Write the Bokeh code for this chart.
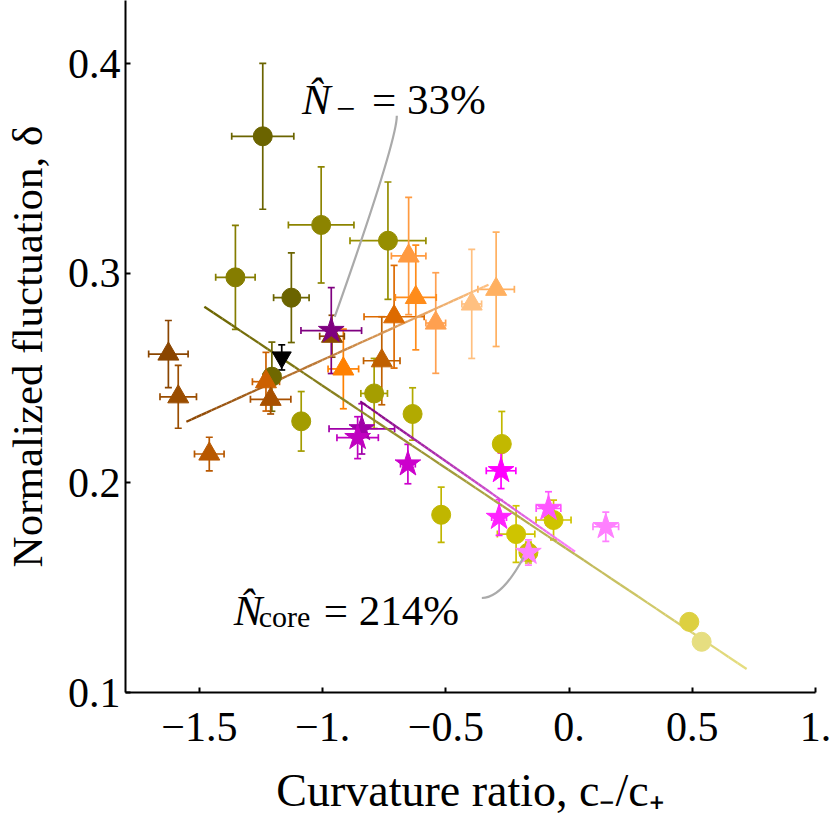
from bokeh.plotting import figure
from bokeh.models import ColumnDataSource, Whisker, TeeHead, FixedTicker, Range1d
from bokeh.core.properties import value, field
from bokeh.embed import file_html
from bokeh.resources import INLINE
import numpy as np

# ---------------- data ----------------
# circles (olive -> yellow family)
circ_x = [-1.243, -1.006, -1.354, -1.127, -1.206, -1.087, -0.735, -0.791, -0.635, -0.273, -0.519, -0.215, -0.063, -0.165, 0.488, 0.538]
circ_y = [0.3654, 0.3231, 0.2981, 0.2884, 0.2507, 0.2294, 0.3156, 0.2427, 0.2329, 0.2186, 0.1848, 0.1756, 0.1823, 0.1668, 0.1337, 0.1242]
circ_xerr = [0.126, 0.133, 0.080, 0.072, 0.035, 0.030, 0.154, 0.054, 0.020, 0.020, 0.020, 0.076, 0.071, 0.0, 0.0, 0.0]
circ_yerr = [0.0348, 0.0277, 0.0248, 0.0214, 0.0165, 0.0142, 0.0280, 0.0167, 0.0125, 0.0155, 0.0132, 0.0135, 0.0095, 0.005, 0.0, 0.0]
circ_color = ["#6b6400", "#8c8400", "#857d00", "#6b6400", "#6f6800", "#a39c00", "#968e00", "#a59e00",
              "#b2aa00", "#c2b800", "#c0b600", "#cfc400", "#cfc400", "#c9be00", "#ddd040", "#e6de80"]

# triangles (brown -> orange -> light orange)
tri_x = [-1.626, -1.586, -1.460, -1.230, -1.211, -0.916, -0.651, -0.622, -0.710, -0.760, -0.541, -0.395, -0.296, -0.962]
tri_y = [0.2615, 0.2411, 0.2138, 0.2483, 0.2399, 0.2544, 0.3083, 0.2885, 0.2793, 0.2583, 0.2763, 0.2854, 0.2924, 0.2700]
tri_xerr = [0.080, 0.074, 0.060, 0.055, 0.082, 0.062, 0.070, 0.083, 0.122, 0.074, 0.040, 0.040, 0.074, 0.05]
tri_yerr = [0.016, 0.015, 0.008, 0.014, 0.007, 0.019, 0.028, 0.025, 0.0245, 0.021, 0.024, 0.026, 0.0273, 0.01]
tri_color = ["#8a4500", "#9a4d00", "#b85800", "#cc6000", "#a85000", "#ff8000", "#ff9a40", "#ff8c1a",
             "#dd6a00", "#c06000", "#ffa050", "#ffc080", "#ffb060", "#8b4a00"]

# stars (purple -> magenta -> pink)
star_x = [-0.965, -0.841, -0.858, -0.654, -0.276, -0.284, -0.0835, 0.149, -0.165]
star_y = [0.2727, 0.2258, 0.2216, 0.2090, 0.2058, 0.1835, 0.1878, 0.1791, 0.1668]
star_xerr = [0.123, 0.133, 0.084, 0.030, 0.060, 0.030, 0.050, 0.052, 0.010]
star_yerr = [0.0205, 0.012, 0.010, 0.0094, 0.0085, 0.0085, 0.008, 0.007, 0.006]
star_color = ["#7f0080", "#a000a8", "#c000c0", "#cc00cc", "#ff00ff", "#ff22ff", "#ff55ff", "#ff80ff", "#ff80ff"]

# single black point (inverted triangle)
down_x = [-1.166]
down_y = [0.2599]
down_yerr = [0.006]

# fit lines: endpoints and end colours
fit_names = ["circles", "triangles", "stars"]
fit_x0 = [-1.480, -1.553, -0.8475]
fit_y0 = [0.2841, 0.2292, 0.2389]
fit_x1 = [0.7205, -0.327, 0.0243]
fit_y1 = [0.1112, 0.2946, 0.1672]
fit_c0 = ["#6b6400", "#8b4500", "#800080"]
fit_c1 = ["#e6de80", "#ffc080", "#ff80ff"]

x_ticks = [-1.5, -1.0, -0.5, 0.0, 0.5, 1.0]
x_tick_labels = ["\u22121.5", "\u22121.", "\u22120.5", "0.", "0.5", "1."]
y_ticks = [0.1, 0.2, 0.3, 0.4]
y_tick_labels = ["0.1", "0.2", "0.3", "0.4"]

FONT = "Liberation Serif"

p = figure(frame_width=690, frame_height=692, output_backend="svg", toolbar_location=None,
           x_range=Range1d(-1.8, 1.0), y_range=Range1d(0.1, 0.4302),
           min_border_left=123, min_border_right=17, min_border_top=0, min_border_bottom=130)
p.outline_line_color = None
p.grid.visible = False
p.background_fill_color = "white"
p.border_fill_color = "white"

for ax in (p.xaxis[0], p.yaxis[0]):
    ax.axis_line_width = 2
    ax.axis_line_color = "black"
    ax.major_tick_in = 5
    ax.major_tick_out = 0
    ax.major_tick_line_width = 2
    ax.minor_tick_line_color = None
    ax.major_label_text_font = FONT
    ax.major_label_text_font_size = "42px"
    ax.major_label_text_color = "black"
    ax.axis_label_text_font = FONT
    ax.axis_label_text_font_style = "normal"
    ax.axis_label_text_color = "black"

p.xaxis.axis_label_text_font_size = "46px"
p.yaxis.axis_label_text_font_size = "43px"
p.xaxis.ticker = FixedTicker(ticks=x_ticks)
p.xaxis.major_label_overrides = {t: l for t, l in zip(x_ticks, x_tick_labels)}
p.yaxis.ticker = FixedTicker(ticks=y_ticks)
p.yaxis.major_label_overrides = {t: l for t, l in zip(y_ticks, y_tick_labels)}
p.xaxis.axis_label = "Curvature ratio, c\u208b/c\u208a"
p.yaxis.axis_label = "Normalized fluctuation, \u03b4"
p.xaxis.major_label_standoff = 20
p.yaxis.major_label_standoff = 5
p.xaxis.axis_label_standoff = 21
p.yaxis.axis_label_standoff = 14


def lerp_color(c0, c1, t):
    a = [int(c0[i:i + 2], 16) for i in (1, 3, 5)]
    b = [int(c1[i:i + 2], 16) for i in (1, 3, 5)]
    return "#%02x%02x%02x" % tuple(int(round(a[k] + (b[k] - a[k]) * t)) for k in range(3))


# gradient fit lines
nseg = 60
for x0, y0, x1, y1, c0, c1 in zip(fit_x0, fit_y0, fit_x1, fit_y1, fit_c0, fit_c1):
    t = np.linspace(0, 1, nseg + 1)
    xs = x0 + (x1 - x0) * t
    ys = y0 + (y1 - y0) * t
    cols = [lerp_color(c0, c1, (t[i] + t[i + 1]) / 2) for i in range(nseg)]
    p.segment(x0=xs[:-1], y0=ys[:-1], x1=xs[1:], y1=ys[1:], line_color=cols, line_width=2.3)


def error_bars(xs, ys, xerr, yerr, colors):
    iy = [i for i in range(len(xs)) if yerr[i] > 0]
    if iy:
        src = ColumnDataSource(dict(base=[xs[i] for i in iy],
                                    lower=[ys[i] - yerr[i] for i in iy],
                                    upper=[ys[i] + yerr[i] for i in iy],
                                    color=[colors[i] for i in iy]))
        w = Whisker(source=src, base="base", lower="lower", upper="upper", dimension="height",
                    line_color=field("color"), line_width=1.7, level="underlay",
                    upper_head=TeeHead(size=7, line_color=field("color"), line_width=1.7),
                    lower_head=TeeHead(size=7, line_color=field("color"), line_width=1.7))
        p.add_layout(w)
    ix = [i for i in range(len(xs)) if xerr[i] > 0]
    if ix:
        src = ColumnDataSource(dict(base=[ys[i] for i in ix],
                                    lower=[xs[i] - xerr[i] for i in ix],
                                    upper=[xs[i] + xerr[i] for i in ix],
                                    color=[colors[i] for i in ix]))
        w = Whisker(source=src, base="base", lower="lower", upper="upper", dimension="width",
                    line_color=field("color"), line_width=1.7, level="underlay",
                    upper_head=TeeHead(size=7, line_color=field("color"), line_width=1.7),
                    lower_head=TeeHead(size=7, line_color=field("color"), line_width=1.7))
        p.add_layout(w)


error_bars(circ_x, circ_y, circ_xerr, circ_yerr, circ_color)
error_bars(tri_x, tri_y, tri_xerr, tri_yerr, tri_color)
error_bars(star_x, star_y, star_xerr, star_yerr, star_color)
error_bars(down_x, down_y, [0.0], down_yerr, ["#000000"])

p.scatter(circ_x, circ_y, marker="circle", size=19, fill_color=circ_color, line_color=circ_color)
p.scatter(tri_x, tri_y, marker="triangle", size=21, fill_color=tri_color, line_color=tri_color)
p.scatter(star_x, star_y, marker="star", size=27, fill_color=star_color, line_color=star_color)
p.scatter(down_x, down_y, marker="inverted_triangle", size=19, fill_color="black", line_color="black")

# ---------------- annotations ----------------
ann1_x, ann1_y = -1.084, 0.3829
ann2_x, ann2_y = -1.361, 0.1390
tf = value(FONT)
p.text(x=[ann1_x], y=[ann1_y], text=["N\u0302"], text_font=tf, text_font_style="italic",
       text_font_size="43px", text_baseline="alphabetic", text_align="left", text_color="black")
p.text(x=[ann1_x], y=[ann1_y], text=["\u2212"], text_font=tf, text_font_size="34px",
       text_baseline="alphabetic", text_align="left", x_offset=34, y_offset=9, text_color="black")
p.text(x=[ann1_x], y=[ann1_y], text=["= 33%"], text_font=tf, text_font_size="43px",
       text_baseline="alphabetic", text_align="left", x_offset=70, text_color="black")

p.text(x=[ann2_x], y=[ann2_y], text=["N\u0302"], text_font=tf, text_font_style="italic",
       text_font_size="43px", text_baseline="alphabetic", text_align="left", text_color="black")
p.text(x=[ann2_x], y=[ann2_y], text=["core"], text_font=tf, text_font_size="30px",
       text_baseline="alphabetic", text_align="left", x_offset=25, y_offset=6, text_color="black")
p.text(x=[ann2_x], y=[ann2_y], text=["= 214%"], text_font=tf, text_font_size="43px",
       text_baseline="alphabetic", text_align="left", x_offset=90, text_color="black")

# pointer curves
p.quadratic(x0=[-0.699], y0=[0.3752], x1=[-0.951], y1=[0.2792], cx=[-0.699], cy=[0.363],
            line_color="#aaaaaa", line_width=2.2)
p.quadratic(x0=[-0.354], y0=[0.1451], x1=[-0.185], y1=[0.1644], cx=[-0.273], cy=[0.1452],
            line_color="#aaaaaa", line_width=2.2)

open("out.html", "w").write(file_html(p, INLINE))
